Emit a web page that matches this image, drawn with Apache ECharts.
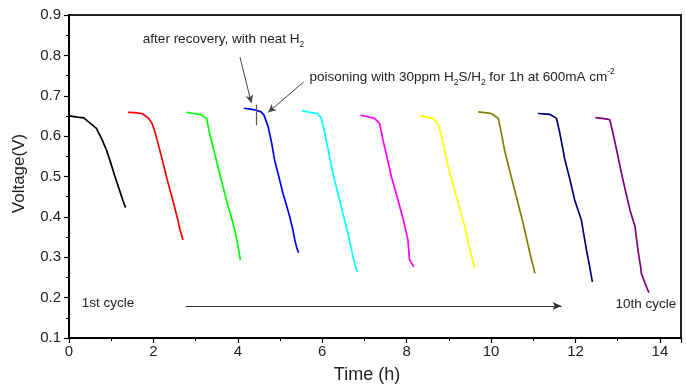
<!DOCTYPE html>
<html>
<head>
<meta charset="utf-8">
<script src="https://cdn.jsdelivr.net/npm/echarts@6/dist/echarts.min.js"></script>
<style>
  html, body { margin: 0; padding: 0; background: #ffffff; }
  #chart { width: 686px; height: 384px; }
</style>
</head>
<body>
<div id="chart"></div>
<script>
// Axis ticks
const timeTicks = [0, 2, 4, 6, 8, 10, 12, 14];
const voltTicks = [0.1, 0.2, 0.3, 0.4, 0.5, 0.6, 0.7, 0.8, 0.9];
const timeMax = 14.5;

// Discharge cycles: [time (h), voltage (V)]
const cycle1 = [[0.00, 0.650], [0.20, 0.647], [0.35, 0.645], [0.50, 0.632], [0.65, 0.619], [0.78, 0.592], [0.89, 0.565], [1.00, 0.530], [1.08, 0.503], [1.20, 0.465], [1.28, 0.440], [1.34, 0.423]];
const cycle2 = [[1.40, 0.659], [1.55, 0.658], [1.73, 0.656], [1.88, 0.645], [1.97, 0.631], [2.05, 0.605], [2.11, 0.582], [2.23, 0.533], [2.35, 0.483], [2.47, 0.437], [2.58, 0.392], [2.63, 0.368], [2.70, 0.343]];
const cycle3 = [[2.78, 0.659], [2.95, 0.656], [3.10, 0.654], [3.26, 0.644], [3.33, 0.607], [3.43, 0.566], [3.53, 0.524], [3.65, 0.474], [3.77, 0.425], [3.85, 0.398], [3.93, 0.367], [4.00, 0.330], [4.06, 0.293]];
const cycle4 = [[4.14, 0.669], [4.30, 0.667], [4.44, 0.664], [4.55, 0.660], [4.62, 0.652], [4.72, 0.623], [4.80, 0.584], [4.87, 0.541], [4.97, 0.500], [5.07, 0.458], [5.15, 0.430], [5.23, 0.400], [5.30, 0.370], [5.35, 0.343], [5.40, 0.322], [5.44, 0.311]];
const cycle5 = [[5.52, 0.663], [5.70, 0.659], [5.89, 0.656], [5.98, 0.644], [6.06, 0.607], [6.14, 0.566], [6.22, 0.524], [6.31, 0.483], [6.41, 0.442], [6.51, 0.400], [6.61, 0.359], [6.73, 0.301], [6.78, 0.280], [6.83, 0.264]];
const cycle6 = [[6.91, 0.652], [7.08, 0.648], [7.24, 0.644], [7.36, 0.631], [7.44, 0.590], [7.54, 0.545], [7.64, 0.499], [7.76, 0.455], [7.88, 0.409], [7.96, 0.376], [8.03, 0.343], [8.07, 0.293], [8.12, 0.285], [8.17, 0.276]];
const cycle7 = [[8.31, 0.650], [8.47, 0.647], [8.63, 0.644], [8.74, 0.631], [8.81, 0.607], [8.90, 0.566], [8.98, 0.524], [9.08, 0.487], [9.18, 0.450], [9.28, 0.412], [9.38, 0.375], [9.46, 0.334], [9.54, 0.303], [9.61, 0.273]];
const cycle8 = [[9.69, 0.660], [9.85, 0.658], [10.01, 0.656], [10.17, 0.644], [10.23, 0.615], [10.32, 0.565], [10.44, 0.515], [10.56, 0.466], [10.66, 0.425], [10.76, 0.384], [10.84, 0.347], [10.92, 0.310], [10.98, 0.285], [11.04, 0.260]];
const cycle9 = [[11.11, 0.656], [11.25, 0.655], [11.39, 0.654], [11.55, 0.644], [11.63, 0.607], [11.75, 0.541], [11.87, 0.492], [11.98, 0.442], [12.06, 0.417], [12.14, 0.392], [12.20, 0.355], [12.26, 0.318], [12.33, 0.280], [12.40, 0.239]];
const cycle10 = [[12.47, 0.646], [12.64, 0.644], [12.81, 0.641], [12.89, 0.607], [12.99, 0.558], [13.09, 0.508], [13.19, 0.462], [13.29, 0.417], [13.41, 0.376], [13.48, 0.318], [13.53, 0.285], [13.55, 0.272], [13.56, 0.260], [13.65, 0.235], [13.74, 0.212]];

const cycles = [cycle1, cycle2, cycle3, cycle4, cycle5, cycle6, cycle7, cycle8, cycle9, cycle10];
const cycleColors = ['#000000', '#ff0000', '#00ff00', '#0000ff', '#00ffff', '#ff00ff', '#ffff00', '#808000', '#000080', '#800080'];

// Annotation anchors in data coordinates
const recoveryMark = [[4.44, 0.678], [4.44, 0.627]];
const recoveryArrow = [[4.05, 0.796], [4.32, 0.682]];
const poisonArrow = [[5.56, 0.734], [4.72, 0.659]];
const cycleArrow = [[2.76, 0.179], [11.67, 0.179]];
const recoveryTextAt = [1.75, 0.840];
const poisonTextAt = [5.70, 0.745];
const firstCycleTextAt = [0.30, 0.186];
const lastCycleTextAt = [12.95, 0.184];

const chart = echarts.init(document.getElementById('chart'), null, { renderer: 'canvas' });
const FONT = 'Liberation Sans, Arial, sans-serif';
const TXT = '#222222';

const series = cycles.map((d, i) => ({
  type: 'line',
  name: 'cycle ' + (i + 1),
  data: d,
  showSymbol: false,
  symbol: 'none',
  lineStyle: { color: cycleColors[i], width: 1.7 },
  itemStyle: { color: cycleColors[i] },
  z: 3
}));

function seg(p, q) { return [{ coord: p }, { coord: q }]; }

series.push({
  type: 'line',
  data: [],
  silent: true,
  markLine: {
    silent: true,
    animation: false,
    label: { show: false },
    data: [seg(recoveryArrow[0], recoveryArrow[1]), seg(poisonArrow[0], poisonArrow[1])],
    symbol: ['none', 'arrow'],
    symbolSize: [6, 8],
    lineStyle: { color: '#444444', width: 1, type: 'solid' }
  }
});
series.push({
  type: 'line',
  data: [],
  silent: true,
  markLine: {
    silent: true,
    animation: false,
    label: { show: false },
    data: [seg(recoveryMark[0], recoveryMark[1])],
    symbol: ['none', 'none'],
    lineStyle: { color: '#555555', width: 1.2, type: 'solid' }
  }
});
series.push({
  type: 'line',
  data: [],
  silent: true,
  markLine: {
    silent: true,
    animation: false,
    label: { show: false },
    data: [seg(cycleArrow[0], cycleArrow[1])],
    symbol: ['none', 'arrow'],
    symbolSize: [6, 9],
    lineStyle: { color: '#333333', width: 1.2, type: 'solid' }
  }
});

chart.setOption({
  animation: false,
  backgroundColor: '#ffffff',
  grid: {
    left: 69, right: 5, top: 15, bottom: 46,
    containLabel: false,
    outerBoundsMode: 'none',
    show: true, borderColor: '#222222', borderWidth: 2, backgroundColor: 'transparent'
  },
  xAxis: {
    type: 'value',
    min: timeTicks[0],
    max: timeMax,
    interval: timeTicks[1] - timeTicks[0],
    name: 'Time (h)',
    nameLocation: 'middle',
    nameGap: 28,
    nameTextStyle: { fontFamily: FONT, fontSize: 18, color: TXT, padding: [0, 16, 0, 0] },
    axisLine: { show: true, onZero: false, lineStyle: { color: '#000000', width: 2 } },
    axisTick: { show: true, inside: false, length: 5, lineStyle: { color: '#000000', width: 1.2 } },
    minorTick: { show: true, splitNumber: 2, length: 3, lineStyle: { color: '#000000', width: 1 } },
    splitLine: { show: false },
    axisLabel: {
      fontFamily: FONT, fontSize: 15, color: TXT, margin: 6, showMaxLabel: false,
      formatter: v => (timeTicks.indexOf(v) >= 0 ? String(v) : '')
    }
  },
  yAxis: {
    type: 'value',
    min: voltTicks[0],
    max: voltTicks[voltTicks.length - 1],
    interval: 0.1,
    name: 'Voltage(V)',
    nameLocation: 'middle',
    nameGap: 41,
    nameTextStyle: { fontFamily: FONT, fontSize: 17, color: TXT, padding: [0, 0, 0, 6] },
    axisLine: { show: true, onZero: false, lineStyle: { color: '#000000', width: 2 } },
    axisTick: { show: true, inside: false, length: 5, lineStyle: { color: '#000000', width: 1.2 } },
    minorTick: { show: true, splitNumber: 2, length: 3, lineStyle: { color: '#000000', width: 1 } },
    splitLine: { show: false },
    axisLabel: {
      fontFamily: FONT, fontSize: 15, color: TXT, margin: 8,
      formatter: v => v.toFixed(1)
    }
  },
  series: series
});

// Text annotations placed at data coordinates
function px(p) { return chart.convertToPixel({ xAxisIndex: 0, yAxisIndex: 0 }, p); }
const richStyles = {
  t: { fontFamily: FONT, fontSize: 13.5, lineHeight: 20, fill: TXT, verticalAlign: 'middle' },
  sub: { fontFamily: FONT, fontSize: 8.5, lineHeight: 10, fill: TXT, verticalAlign: 'bottom' },
  sup: { fontFamily: FONT, fontSize: 8.5, lineHeight: 10, fill: TXT, verticalAlign: 'top' }
};
function label(p, text) {
  const q = px(p);
  return {
    type: 'text', x: q[0], y: q[1], z: 10, silent: true,
    style: { text: text, rich: richStyles, align: 'left', verticalAlign: 'middle', fill: TXT, font: '13.5px ' + FONT }
  };
}
chart.setOption({
  graphic: [
    label(recoveryTextAt, '{t|after recovery, with neat H}{sub|2}'),
    label(poisonTextAt, '{t|poisoning with 30ppm H}{sub|2}{t|S/H}{sub|2}{t| for 1h at 600mA cm}{sup|-2}'),
    label(firstCycleTextAt, '{t|1st cycle}'),
    label(lastCycleTextAt, '{t|10th cycle}')
  ]
});
</script>
</body>
</html>
